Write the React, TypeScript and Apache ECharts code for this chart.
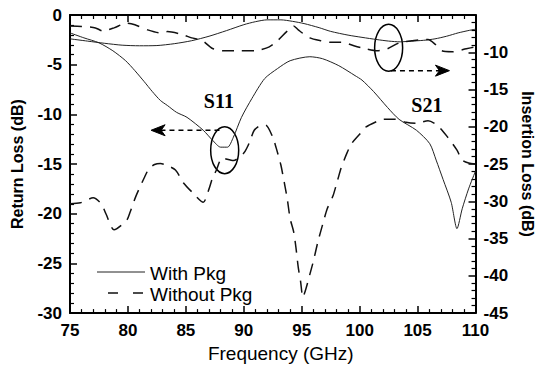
import React, { useEffect, useRef } from "react";
import * as echarts from "echarts";

// Frequency (GHz) vs Return Loss (dB) — left axis
const s11WithPkg: [number, number][] = [
  [75, -1.8], [76.2, -2.3], [77.5, -2.8], [78.7, -3.6], [79.8, -4.6], [80.6, -5.6],
  [81.4, -6.7], [82.1, -7.7], [82.8, -8.6], [83.4, -9.1], [84.2, -9.8], [85.1, -10.3],
  [86.5, -11.6], [87.3, -12.6], [88.0, -13.3], [88.6, -13.3], [89.1, -12.3], [89.8, -10.3],
  [90.7, -8.4], [91.8, -6.4], [92.9, -5.4], [94.0, -4.6], [95.7, -4.2], [96.8, -4.4],
  [98.2, -5.1], [99.6, -6.1], [100.2, -6.55], [101.2, -7.7], [102.4, -9.3], [103.4, -10.5],
  [104.9, -11.6], [106.05, -12.95], [106.6, -14.6], [107.2, -16.55], [107.9, -18.85],
  [108.4, -21.5], [108.85, -19.5], [109.4, -17.5], [110, -15.7],
];

const s11WithoutPkg: [number, number][] = [
  [75, -19.0], [75.9, -18.9], [77.0, -18.4], [77.7, -19.0], [78.1, -20.0], [78.8, -21.6],
  [79.9, -20.65], [80.2, -19.8], [80.7, -18.2], [81.4, -16.4], [81.8, -15.5], [82.3, -15.05],
  [82.8, -14.95], [83.3, -15.1], [84.1, -15.6], [84.8, -16.9], [85.6, -17.9], [86.5, -18.85],
  [87.0, -17.5], [87.3, -16.4], [87.6, -15.7], [88.15, -14.4], [89.1, -14.65], [90.0, -13.9],
  [90.5, -12.8], [90.9, -11.6], [91.5, -11.1], [91.9, -11.1], [92.5, -12.3], [92.8, -13.4],
  [93.2, -15.1], [93.5, -16.9], [93.75, -18.5], [94.0, -20.5], [94.3, -21.8], [94.5, -23.4],
  [94.7, -25.4], [94.9, -26.8], [95.1, -28.4], [95.4, -27.4], [95.7, -26.1], [96.0, -24.8],
  [96.4, -22.8], [96.8, -21.1], [97.2, -19.5], [97.7, -18.2], [98.1, -16.6], [98.4, -15.4],
  [98.9, -13.9], [99.3, -12.95], [100.0, -12.0], [100.5, -11.3], [101.6, -10.65], [102.1, -10.5],
  [103.1, -10.5], [104.0, -10.8], [104.9, -10.9], [105.9, -10.65], [106.7, -11.1], [107.6, -12.3],
  [108.4, -13.6], [108.85, -14.6], [109.4, -14.9], [110, -15.0],
];

// Frequency (GHz) vs Insertion Loss (dB) — right axis
const s21WithPkg: [number, number][] = [
  [75, -8.2], [76.5, -8.5], [78, -8.8], [79.5, -9.05], [81, -9.13], [82.5, -9.1], [84, -8.85],
  [85.5, -8.45], [87, -7.85], [88.5, -7.1], [90, -6.3], [91, -5.9], [92, -5.65], [93.2, -5.65],
  [94.2, -5.85], [95.2, -6.15], [96.5, -6.7], [97.5, -7.2], [99, -7.7], [100.2, -8.0],
  [101.5, -8.3], [102.5, -8.5], [103.5, -8.6], [104.5, -8.5], [105.5, -8.4], [106.5, -8.2],
  [107.5, -7.85], [108.5, -7.4], [109.5, -7.05], [110, -6.9],
];

const s21WithoutPkg: [number, number][] = [
  [75, -6.47], [76, -6.53], [77.2, -6.73], [77.8, -7.13], [78.8, -6.73], [79.9, -6.09],
  [80.6, -6.31], [81.7, -7.0], [82.8, -7.4], [83.4, -7.23], [84.7, -7.63], [85.5, -8.07],
  [86.4, -8.4], [87.3, -9.5], [88.3, -9.8], [89.5, -9.8], [90.5, -9.8], [91.2, -9.75],
  [92.2, -9.27], [92.9, -8.47], [93.7, -7.23], [94.3, -6.47], [94.7, -7.0], [95.7, -8.07],
  [96.7, -8.47], [97.5, -8.67], [98.5, -8.67], [99.5, -9.13], [100.5, -9.53], [101.5, -9.8],
  [102.3, -9.6], [103.5, -8.67], [104.5, -8.47], [105.2, -8.33], [105.9, -8.3], [106.5, -8.9],
  [107.1, -9.8], [108.0, -9.93], [109.2, -9.53], [110, -9.27],
];

const legendLabels = ["With Pkg", "Without Pkg"];
const curveLabels = ["S11", "S21"];

export default function App() {
  const ref = useRef<HTMLDivElement>(null);

  useEffect(() => {
    if (!ref.current) return;
    const chart = echarts.init(ref.current, null, { renderer: "svg" });
    const sans = "'Liberation Sans', Arial, Helvetica, sans-serif";
    const serif = "'Liberation Serif', 'Times New Roman', serif";
    const black = "#000";

    const axisLine = { show: true, onZero: false, lineStyle: { color: black, width: 2 } };
    const axisTick = { show: true, inside: true, length: 7, lineStyle: { color: black, width: 1.5 } };
    const minorTick = { show: true, splitNumber: 5, length: 4, lineStyle: { color: black, width: 1.2 } };
    const tickLabel = { color: black, fontFamily: sans, fontSize: 17, fontWeight: "bold" as const };
    const nameStyle = { color: black, fontFamily: sans, fontSize: 16, fontWeight: "bold" as const };

    const solid = { color: "#222", width: 1, type: "solid" as const };
    const dashed = { color: "#111", width: 1.5, type: [12, 8] as number[] };

    chart.setOption({
      animation: false,
      textStyle: { fontFamily: sans },
      grid: { left: 70, right: 56, top: 15, bottom: 47 },
      xAxis: [
        {
          type: "value", min: 75, max: 110, interval: 5, position: "bottom",
          name: "Frequency (GHz)", nameLocation: "middle", nameGap: 28,
          nameTextStyle: { color: black, fontFamily: sans, fontSize: 19, padding: [0, 0, 0, 16] },
          axisLine, axisTick, minorTick, splitLine: { show: false }, minorSplitLine: { show: false },
          axisLabel: { ...tickLabel, margin: 9 },
        },
        {
          type: "value", min: 75, max: 110, interval: 5, position: "top",
          axisLine, axisTick, minorTick, splitLine: { show: false },
          axisLabel: { show: false },
        },
      ],
      yAxis: [
        {
          type: "value", min: -30, max: 0, interval: 5, position: "left",
          name: "Return Loss (dB)", nameLocation: "middle", nameRotate: 90, nameGap: 45,
          nameTextStyle: nameStyle,
          axisLine, axisTick, minorTick, splitLine: { show: false },
          axisLabel: { ...tickLabel, margin: 8 },
        },
        {
          type: "value", min: -45, max: -5, interval: 5, position: "right",
          name: "Insertion Loss (dB)", nameLocation: "middle", nameRotate: -90, nameGap: 39,
          nameTextStyle: nameStyle,
          axisLine, axisTick, minorTick, splitLine: { show: false },
          axisLabel: { ...tickLabel, margin: 8, showMaxLabel: false },
        },
      ],
      series: [
        { type: "line", name: "S11 " + legendLabels[0], xAxisIndex: 0, yAxisIndex: 0, data: s11WithPkg, symbol: "none", smooth: 0.25, lineStyle: solid },
        { type: "line", name: "S11 " + legendLabels[1], xAxisIndex: 0, yAxisIndex: 0, data: s11WithoutPkg, symbol: "none", smooth: 0.25, lineStyle: dashed },
        { type: "line", name: "S21 " + legendLabels[0], xAxisIndex: 0, yAxisIndex: 1, data: s21WithPkg, symbol: "none", smooth: 0.25, lineStyle: solid },
        { type: "line", name: "S21 " + legendLabels[1], xAxisIndex: 0, yAxisIndex: 1, data: s21WithoutPkg, symbol: "none", smooth: 0.25, lineStyle: dashed },
      ],
    });

    const px = (x: number, y: number) =>
      chart.convertToPixel({ xAxisIndex: 0, yAxisIndex: 0 }, [x, y]) as number[];

    const e1 = px(88.35, -13.6);
    const e2 = px(102.5, -3.3);
    const a1s = px(87.9, -11.6);
    const a1t = px(82.0, -11.6);
    const a2s = px(102.7, -5.6);
    const a2t = px(107.75, -5.6);
    const t1 = px(87.85, -8.65);
    const t2 = px(105.8, -9.1);

    const ell = (c: number[]) => ({
      type: "ellipse",
      shape: { cx: c[0], cy: c[1], rx: 14, ry: 23.5 },
      style: { fill: "none", stroke: black, lineWidth: 1.5 },
    });
    const arrow = (s: number[], t: number[], dir: number) => [
      {
        type: "line",
        shape: { x1: s[0], y1: s[1], x2: t[0] - dir * 8, y2: t[1] },
        style: { stroke: black, lineWidth: 1.5, lineDash: [5, 4] },
      },
      {
        type: "polygon",
        shape: {
          points: [
            [t[0], t[1]],
            [t[0] - dir * 14, t[1] - 5.5],
            [t[0] - dir * 10, t[1]],
            [t[0] - dir * 14, t[1] + 5.5],
          ],
        },
        style: { fill: black, stroke: black, lineWidth: 1 },
      },
    ];
    const curveText = (p: number[], s: string) => ({
      type: "text",
      x: p[0],
      y: p[1],
      style: {
        text: s, fill: black, fontFamily: serif, fontSize: 20, fontWeight: "bold",
        align: "center", verticalAlign: "middle",
      },
    });

    chart.setOption({
      graphic: [
        ell(e1),
        ell(e2),
        ...arrow(a1s, a1t, -1),
        ...arrow(a2s, a2t, 1),
        curveText(t1, curveLabels[0]),
        curveText(t2, curveLabels[1]),
        // legend
        { type: "line", shape: { x1: 97, y1: 272, x2: 145, y2: 272 }, style: { stroke: "#222", lineWidth: 1 } },
        {
          type: "text", x: 150, y: 273,
          style: { text: legendLabels[0], fill: black, fontFamily: sans, fontSize: 19, verticalAlign: "middle" },
        },
        { type: "line", shape: { x1: 108, y1: 293, x2: 143, y2: 293 }, style: { stroke: "#111", lineWidth: 1.5, lineDash: [10, 15] } },
        {
          type: "text", x: 150, y: 294,
          style: { text: legendLabels[1], fill: black, fontFamily: sans, fontSize: 19, verticalAlign: "middle" },
        },
      ],
    });

    return () => chart.dispose();
  }, []);

  return (
    <div
      ref={ref}
      style={{ position: "absolute", left: 0, top: 0, width: 543, height: 368, background: "#fff" }}
    />
  );
}
